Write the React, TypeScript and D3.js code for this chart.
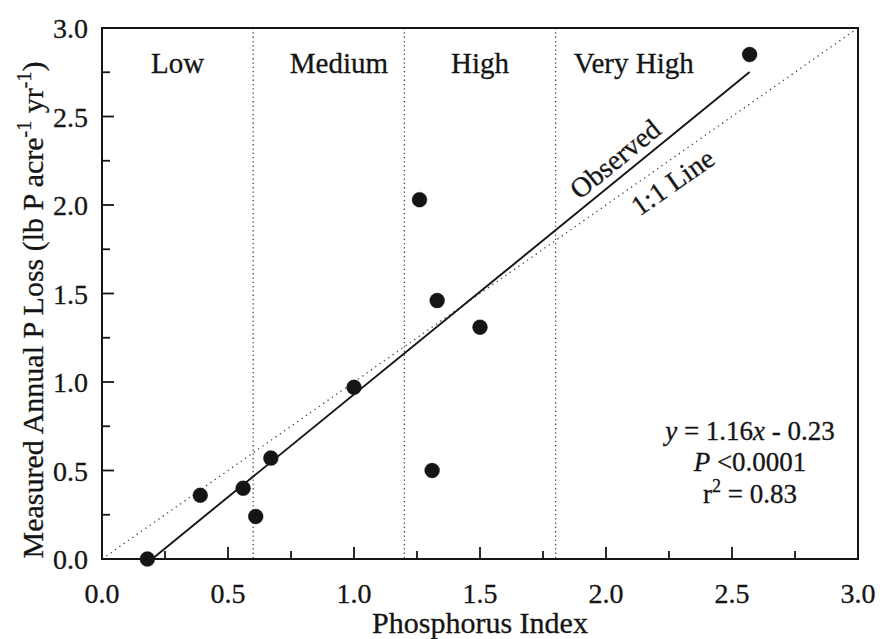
import * as d3 from "d3";

const phosphorusIndex = [0.18, 0.39, 0.56, 0.61, 0.67, 1.0, 1.26, 1.33, 1.31, 1.5, 2.57];
const measuredLoss = [0.0, 0.36, 0.4, 0.24, 0.57, 0.97, 2.03, 1.46, 0.5, 1.31, 2.85];

const majorTicks = [0, 0.5, 1.0, 1.5, 2.0, 2.5, 3.0];
const minorTicks = [0.25, 0.75, 1.25, 1.75, 2.25, 2.75];
const tickLabels = ["0.0", "0.5", "1.0", "1.5", "2.0", "2.5", "3.0"];

const categories = ["Low", "Medium", "High", "Very High"];
const categoryCenters = [0.3, 0.94, 1.5, 2.11];
const categoryBreaks = [0.6, 1.2, 1.8];

const slope = 1.16;
const intercept = -0.23;
const fitRange = [0.2, 2.57];

const W = 882;
const H = 639;
const margin = { top: 28, right: 24, bottom: 80, left: 102 };
const font = "'Liberation Serif', 'Times New Roman', serif";
const ink = "#151515";

export default function App() {
  const x = d3.scaleLinear().domain([0, 3]).range([margin.left, W - margin.right]);
  const y = d3.scaleLinear().domain([0, 3]).range([H - margin.bottom, margin.top]);
  const x0 = x(0), x1 = x(3), y0 = y(0), y1 = y(3);

  const line = d3
    .line<number[]>()
    .x((d) => x(d[0]))
    .y((d) => y(d[1]));

  const fitLine = line(fitRange.map((v) => [v, slope * v + intercept]));
  const oneToOne = line([[0, 0], [3, 3]]);

  // label angles follow the lines on screen
  const fitAngle = (Math.atan2(y(slope) - y(0), x(1) - x(0)) * 180) / Math.PI;
  const oneAngle = (Math.atan2(y(1) - y(0), x(1) - x(0)) * 180) / Math.PI;
  const obsX = 2.08;
  const oneX = 2.22;

  return (
    <svg
      width={W}
      height={H}
      style={{ position: "absolute", left: 0, top: 0, background: "#fff" }}
      fontFamily={font}
    >
      {/* category dividers */}
      {categoryBreaks.map((b) => (
        <line key={b} x1={x(b)} x2={x(b)} y1={y1} y2={y0} stroke="#444" strokeWidth={1.3} strokeDasharray="1.3 3" />
      ))}
      <path d={oneToOne!} fill="none" stroke="#444" strokeWidth={1.3} strokeDasharray="1.3 4" />
      <path d={fitLine!} fill="none" stroke={ink} strokeWidth={1.9} />

      {/* frame */}
      <rect x={x0} y={y1} width={x1 - x0} height={y0 - y1} fill="none" stroke={ink} strokeWidth={2} />

      <g fill={ink} stroke={ink} strokeWidth={0.3}>
        {/* inward ticks */}
        {majorTicks.map((t, i) => (
          <g key={"mx" + t}>
            <line x1={x(t)} x2={x(t)} y1={y0} y2={y0 - 12} strokeWidth={1.8} />
            <line x1={x0} x2={x0 + 12} y1={y(t)} y2={y(t)} strokeWidth={1.8} />
            <text x={x(t)} y={603} textAnchor="middle" fontSize={28}>{tickLabels[i]}</text>
            <text x={x0 - 14} y={y(t) + 10} textAnchor="end" fontSize={28}>{tickLabels[i]}</text>
          </g>
        ))}
        {minorTicks.map((t) => (
          <g key={"mn" + t}>
            <line x1={x(t)} x2={x(t)} y1={y0} y2={y0 - 8} strokeWidth={1.8} />
            <line x1={x0} x2={x0 + 8} y1={y(t)} y2={y(t)} strokeWidth={1.8} />
          </g>
        ))}

        {/* points */}
        {phosphorusIndex.map((p, i) => (
          <circle key={i} cx={x(p)} cy={y(measuredLoss[i])} r={7.5} />
        ))}

        {/* category labels */}
        {categories.map((c, i) => (
          <text key={c} x={x(categoryCenters[i])} y={73} textAnchor="middle" fontSize={29}>{c}</text>
        ))}

        <text
          transform={`translate(${x(obsX)},${y(slope * obsX + intercept)}) rotate(${fitAngle})`}
          dy={-8}
          textAnchor="middle"
          fontSize={28}
        >
          Observed
        </text>
        <text
          transform={`translate(${x(oneX)},${y(oneX)}) rotate(${oneAngle})`}
          dy={29}
          textAnchor="middle"
          fontSize={28}
        >
          1:1 Line
        </text>

        {/* regression stats */}
        <g fontSize={27} textAnchor="middle">
          <text x={750} y={440}>
            <tspan fontStyle="italic">y</tspan> = 1.16<tspan fontStyle="italic">x</tspan> - 0.23
          </text>
          <text x={750} y={471}>
            <tspan fontStyle="italic">P</tspan> {"<0.0001"}
          </text>
          <text x={750} y={503}>
            r<tspan dy={-11} fontSize={18}>2</tspan><tspan dy={11}> = 0.83</tspan>
          </text>
        </g>

        {/* axis titles */}
        <text x={(x0 + x1) / 2} y={633} textAnchor="middle" fontSize={30}>Phosphorus Index</text>
        <text transform={`translate(43,310) rotate(-90)`} textAnchor="middle" fontSize={30}>
          Measured Annual P Loss (lb P acre<tspan dy={-12} fontSize={20}>-1</tspan>
          <tspan dy={12}> yr</tspan>
          <tspan dy={-12} fontSize={20}>-1</tspan>
          <tspan dy={12}>)</tspan>
        </text>
      </g>
    </svg>
  );
}
